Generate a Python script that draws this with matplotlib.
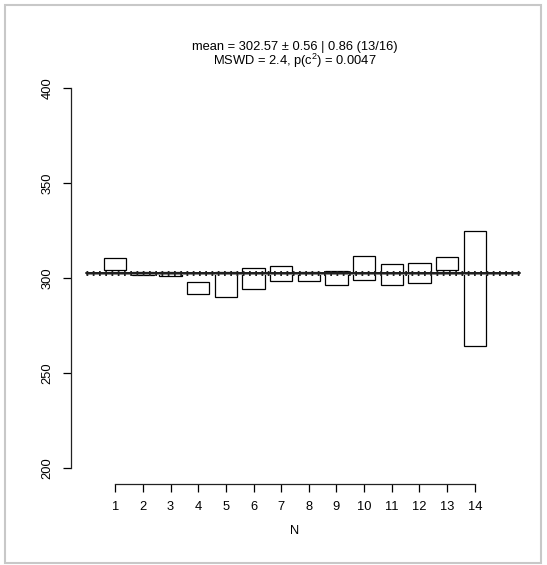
import numpy as np
import matplotlib
matplotlib.use('Agg')
import matplotlib.pyplot as plt
from matplotlib.patches import Rectangle

plt.rcParams['font.family'] = ['Liberation Sans', 'DejaVu Sans']

# aliquot ages (centre) and their 2-sigma half widths
ages = [307.4, 302.4, 302.1, 294.6, 296.5, 300.0, 302.5, 301.0, 300.2, 305.3, 302.1, 302.6, 307.7, 294.5]
errs = [3.1, 0.7, 0.9, 3.1, 6.5, 5.5, 4.0, 2.4, 3.6, 6.4, 5.5, 5.2, 3.5, 30.4]
wmean = 302.57
wmean_err = 0.86
title_lines = ["mean = 302.57 \u00b1 0.56 | 0.86 (13/16)",
               "MSWD = 2.4, p($\\mathregular{c^2}$) = 0.0047"]

W, H = 547, 565
FS = 9.3
fig = plt.figure(figsize=(W / 100, H / 100), dpi=100)

# grey frame round the whole device
fig.patches.append(Rectangle((5 / W, 2 / H), 536 / W, 558 / H, transform=fig.transFigure,
                             fill=False, edgecolor='#c8c8c8', linewidth=1.5))

ax = fig.add_axes([71 / W, (H - 483.5) / H, (519 - 71) / W, (483.5 - 72.75) / H])
ax.set_xlim(-0.6, 15.6)
ax.set_ylim(192, 408)

n = np.arange(1, len(ages) + 1)
for i, a, e in zip(n, ages, errs):
    ax.add_patch(Rectangle((i - 0.4, a - e), 0.8, 2 * e, fill=False,
                           edgecolor='black', linewidth=0.9))

# weighted mean with its uncertainty band
ax.fill_between([-0.05, 15.65], wmean - wmean_err, wmean + wmean_err,
                color='#8a8a8a', linewidth=0, clip_on=False)
ax.plot([-0.05, 15.65], [wmean, wmean], color='black', linewidth=1.1, clip_on=False)
ax.plot([-0.05, 15.65], [wmean, wmean], color='#202020', linewidth=3.6,
        linestyle=(0, (0.35, 0.9)), clip_on=False)

for s in ['top', 'right']:
    ax.spines[s].set_visible(False)
ax.spines['left'].set_bounds(200, 400)
ax.spines['bottom'].set_bounds(1, 14)
for s in ['left', 'bottom']:
    ax.spines[s].set_linewidth(0.9)
    ax.spines[s].set_color('#222222')

ax.set_xticks(n)
ax.set_yticks([200, 250, 300, 350, 400])
ax.tick_params(axis='x', direction='out', length=5.8, width=0.9, pad=7.0, labelsize=FS)
ax.tick_params(axis='y', direction='out', length=5.8, width=0.9, pad=7.0, labelsize=FS)
for lab in ax.get_yticklabels():
    lab.set_rotation(90)
    lab.set_va('center')
ax.set_xlabel('N', fontsize=FS, labelpad=8.5)

fig.text(295 / W, 1 - 47 / H, title_lines[0], ha='center', va='center', fontsize=FS)
fig.text(295 / W, 1 - 61 / H, title_lines[1], ha='center', va='center', fontsize=FS)

fig.savefig('out.png', dpi=100)
